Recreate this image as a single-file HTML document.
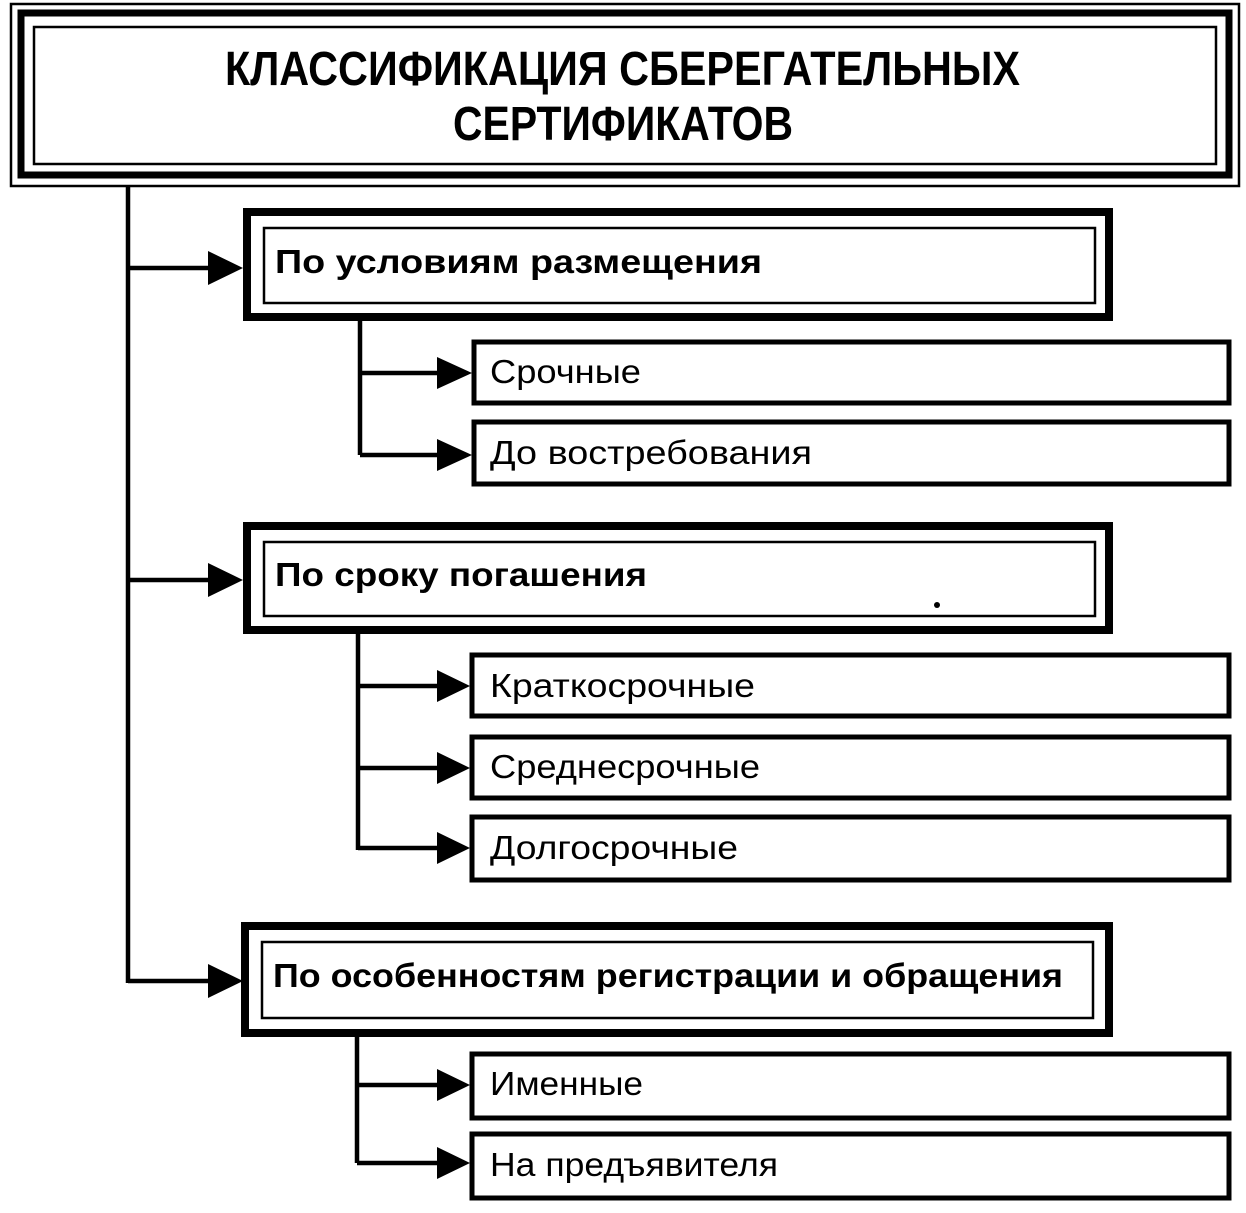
<!DOCTYPE html>
<html><head><meta charset="utf-8"><style>
html,body{margin:0;padding:0;background:#fff;}
svg{display:block;}
text{font-family:"Liberation Sans",sans-serif;fill:#000;}
.t{font-weight:bold;font-size:48px;}
.c{font-weight:bold;font-size:33px;}
.s{font-size:33px;}
</style></head><body>
<svg width="1246" height="1213" viewBox="0 0 1246 1213" xmlns="http://www.w3.org/2000/svg">
<g fill="none" stroke="#000">
<rect x="11" y="4" width="1228" height="182" stroke-width="2.5"/>
<rect x="21" y="13" width="1208" height="162" stroke-width="7"/>
<rect x="34" y="27" width="1182" height="137" stroke-width="2.5"/>
<rect x="247" y="212" width="862" height="105" stroke-width="8"/>
<rect x="264" y="228" width="831" height="75" stroke-width="2.5"/>
<rect x="247" y="526" width="862" height="104" stroke-width="8"/>
<rect x="264" y="542" width="831" height="74" stroke-width="2.5"/>
<rect x="245" y="926" width="864" height="107" stroke-width="8"/>
<rect x="262" y="942" width="831" height="76" stroke-width="2.5"/>
<g stroke-width="5">
<rect x="474" y="342" width="755" height="61"/>
<rect x="474" y="422" width="755" height="62"/>
<rect x="472" y="655" width="757" height="61"/>
<rect x="472" y="737" width="757" height="61"/>
<rect x="472" y="817" width="757" height="63"/>
<rect x="472" y="1054" width="757" height="64"/>
<rect x="472" y="1134" width="757" height="64"/>
</g>
<g stroke-width="4.5">
<path d="M128 187 V983 M128 268 H212 M128 580 H212 M128 981 H212"/>
<path d="M360 320 V455 M360 373 H440 M360 455 H440"/>
<path d="M358 633 V850 M358 686 H440 M358 768 H440 M358 848 H440"/>
<path d="M357 1035 V1163 M357 1085 H440 M357 1163 H440"/>
</g>
</g>
<g fill="#000">
<polygon points="208,251 243,268 208,285"/>
<polygon points="208,563 243,580 208,597"/>
<polygon points="208,964 243,981 208,998"/>
<polygon points="437,357 472,373 437,389"/>
<polygon points="437,439 472,455 437,471"/>
<polygon points="437,670 470,686 437,702"/>
<polygon points="437,752 470,768 437,784"/>
<polygon points="437,832 470,848 437,864"/>
<polygon points="437,1069 470,1085 437,1101"/>
<polygon points="437,1147 470,1163 437,1179"/>
<circle cx="937" cy="605" r="3"/>
</g>
<text class="t" x="225" y="85" textLength="795" lengthAdjust="spacingAndGlyphs">КЛАССИФИКАЦИЯ СБЕРЕГАТЕЛЬНЫХ</text>
<text class="t" x="453" y="140" textLength="340" lengthAdjust="spacingAndGlyphs">СЕРТИФИКАТОВ</text>
<text class="c" x="275" y="273" textLength="487" lengthAdjust="spacingAndGlyphs">По условиям размещения</text>
<text class="c" x="275" y="586" textLength="372" lengthAdjust="spacingAndGlyphs">По сроку погашения</text>
<text class="c" x="273" y="987" textLength="790" lengthAdjust="spacingAndGlyphs">По особенностям регистрации и обращения</text>
<text class="s" x="490" y="383" textLength="151" lengthAdjust="spacingAndGlyphs">Срочные</text>
<text class="s" x="490" y="464" textLength="322" lengthAdjust="spacingAndGlyphs">До востребования</text>
<text class="s" x="490" y="697" textLength="265" lengthAdjust="spacingAndGlyphs">Краткосрочные</text>
<text class="s" x="490" y="778" textLength="270" lengthAdjust="spacingAndGlyphs">Среднесрочные</text>
<text class="s" x="490" y="859" textLength="248" lengthAdjust="spacingAndGlyphs">Долгосрочные</text>
<text class="s" x="490" y="1095" textLength="153" lengthAdjust="spacingAndGlyphs">Именные</text>
<text class="s" x="490" y="1176" textLength="288" lengthAdjust="spacingAndGlyphs">На предъявителя</text>
</svg>
</body></html>
